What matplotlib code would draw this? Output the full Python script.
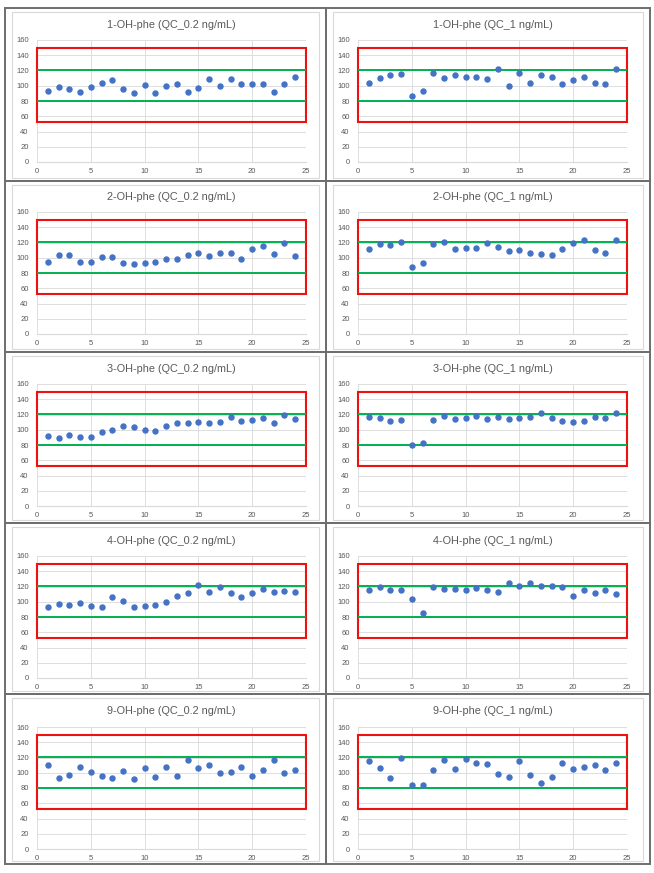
import matplotlib
matplotlib.use("Agg")
import matplotlib.pyplot as plt
from matplotlib.patches import Rectangle

plt.rcParams["font.family"] = ["Liberation Sans", "DejaVu Sans"]

runs = list(range(1, 25))

compounds = ["1-OH-phe", "2-OH-phe", "3-OH-phe", "4-OH-phe", "9-OH-phe"]
levels = ["QC_0.2 ng/mL", "QC_1 ng/mL"]

oh1_low = [93.5, 98, 95.5, 92, 99, 104, 108, 95.5, 91, 101, 91, 100,
           102, 92, 96.5, 109.5, 100, 108.5, 102, 102.5, 102, 92, 102.5, 111]
oh1_high = [104, 110, 114.5, 115, 86.5, 92.5, 117, 110, 114.5, 112, 111, 109,
            121.5, 100, 117, 103.5, 114.5, 112, 102.5, 108, 112, 104, 102, 121.5]
oh2_low = [94.7, 103.5, 104, 94, 94, 100.5, 101.3, 92.5, 92, 92.5, 95, 98,
           99, 103.5, 106, 102.5, 106, 106, 98, 111.5, 115, 104.5, 119, 102]
oh2_high = [111, 118, 116.5, 121, 88.5, 93.5, 118, 121, 112, 113, 113, 119,
            114, 109, 110, 106, 104.5, 103, 111, 119, 123, 110, 106, 123]
oh3_low = [91.6, 89.8, 92.5, 91, 90, 97.5, 99.5, 104.5, 103.5, 99.5, 99, 104.5,
           109, 109, 110, 108.5, 110, 117, 111, 113, 116, 109, 119.5, 114.5]
oh3_high = [117, 115.5, 111.5, 113, 79.5, 83, 113, 117.5, 113.5, 115.5, 117.5, 113.5,
            117, 113.5, 115, 117, 121.5, 115, 111, 110, 112, 117, 115.5, 121.5]
oh4_low = [93.4, 96.5, 96, 98.7, 94.3, 93, 106.6, 100.4, 93, 94.3, 96, 100,
           107, 111.4, 122, 113, 118.9, 111, 106.6, 111, 116.7, 113, 114, 112.7]
oh4_high = [115, 119, 116, 115, 103, 85.5, 119, 116.7, 116.7, 115, 118, 116,
            113, 124, 121, 124, 121, 121, 119, 108, 115, 112, 115, 110]
oh9_low = [109.7, 93, 96.5, 108, 101.3, 96, 93, 102.2, 91.6, 106.2, 95, 108,
           95.6, 116.4, 106.2, 110, 100, 100.4, 108, 96, 104, 116.4, 99.6, 103.5]
oh9_high = [115.5, 106.2, 92.5, 119, 84, 83.6, 104, 116.8, 105.3, 118, 112.4, 112,
            97.8, 94.3, 115.5, 97, 86, 94.7, 112.4, 105.3, 107, 110, 103, 113]

series = [
    [oh1_low, oh1_high],
    [oh2_low, oh2_high],
    [oh3_low, oh3_high],
    [oh4_low, oh4_high],
    [oh9_low, oh9_high],
]

green_limits = [121, 79.5]
red_box = (52, 150)

W, H = 654, 873
fig = plt.figure(figsize=(W / 100, H / 100), dpi=100)

# background layer in pixel coordinates for the table grid and chart frames
bg = fig.add_axes([0, 0, 1, 1])
bg.set_xlim(0, W)
bg.set_ylim(H, 0)
bg.axis("off")

col_edges = [5, 326, 650]
row_edges = [8, 181, 352, 523, 694, 864]
for r in range(5):
    for c in range(2):
        x0, x1 = col_edges[c], col_edges[c + 1]
        y0, y1 = row_edges[r], row_edges[r + 1]
        bg.add_patch(Rectangle((x0 + 7, y0 + 4), (x1 - x0) - 14, (y1 - y0) - 7,
                               fill=False, ec="#d9d9d9", lw=0.8))
        bg.add_patch(Rectangle((x0, y0), x1 - x0, y1 - y0,
                               fill=False, ec="#6e6e6e", lw=1.4))


def px_axes(left, top, right, bottom):
    return fig.add_axes([left / W, 1 - bottom / H, (right - left) / W, (bottom - top) / H])


plot_tops = [40, 212, 384, 556, 727]
plot_x = [(37, 306), (358, 627)]

for r, name in enumerate(compounds):
    for c, level in enumerate(levels):
        left, right = plot_x[c]
        top = plot_tops[r]
        ax = px_axes(left, top, right, top + 122)
        ax.patch.set_alpha(0)
        vals = series[r][c]

        ax.set_xlim(0, 25)
        ax.set_ylim(0, 160)
        ax.set_xticks(range(0, 26, 5))
        ax.set_yticks(range(0, 161, 20))
        ax.grid(True, color="#d9d9d9", lw=0.6)
        ax.set_axisbelow(True)
        for s in ["top", "right", "left"]:
            ax.spines[s].set_visible(False)
        ax.spines["bottom"].set_color("#d9d9d9")
        ax.spines["bottom"].set_linewidth(0.8)
        ax.tick_params(length=0, labelsize=5.5, labelcolor="#595959")
        ax.tick_params(axis="y", pad=6)
        ax.tick_params(axis="x", pad=4)

        ax.add_patch(Rectangle((0, red_box[0]), 25, red_box[1] - red_box[0],
                               fill=False, ec="#ee1111", lw=1.5, clip_on=False, zorder=3))
        for g in green_limits:
            ax.axhline(g, xmin=0, xmax=1, color="#00b050", lw=1.4, zorder=3)

        ax.plot(runs, vals, "o", color="#4472c4", ms=3.6, mec="#4472c4", zorder=4)
        ax.set_title(f"{name} ({level})", fontsize=7.8, color="#595959", pad=9)

fig.savefig("out.png", dpi=100)
